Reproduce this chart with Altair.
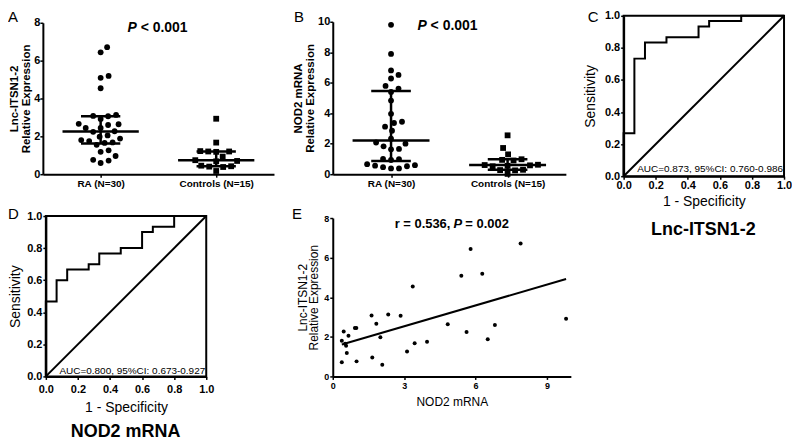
import altair as alt
import numpy as np
import pandas as pd

FONT = "Liberation Sans"

# ---------------- data ----------------
groups = ["RA (N=30)", "Controls (N=15)"]

# paired RA values (panel E: x = NOD2 mRNA, y = Lnc-ITSN1-2)
ra_nod2 = [0.38, 0.38, 0.46, 0.52, 0.56, 0.59, 0.66, 0.93, 0.99, 1.00,
           1.63, 1.66, 1.83, 2.00, 2.08, 2.33, 2.85, 3.12, 3.36, 3.44,
           3.96, 4.83, 5.40, 5.62, 5.79, 6.28, 6.51, 6.81, 7.89, 9.80]
ra_lnc = [0.72, 1.80, 2.27, 1.65, 1.55, 1.18, 2.05, 2.44, 2.44, 0.76,
          3.08, 0.96, 2.66, 1.98, 0.59, 3.13, 3.06, 1.26, 4.54, 1.68,
          1.75, 2.64, 5.09, 2.24, 6.44, 5.19, 1.88, 2.60, 6.71, 2.91]

ctrl_lnc = [0.17, 0.38, 0.40, 0.42, 0.45, 0.68, 0.70, 0.74,
            0.93, 1.18, 1.20, 1.20, 1.22, 1.67, 2.93]
ctrl_nod2 = [0.02, 0.25, 0.27, 0.29, 0.52, 0.55, 0.58, 0.60,
             0.62, 0.90, 0.94, 0.98, 1.30, 1.72, 2.55]

roc_c_fpr = [0, 0, 0.067, 0.067, 0.133, 0.133, 0.267, 0.267, 0.467, 0.467,
             0.533, 0.533, 0.733, 0.733, 1.0]
roc_c_tpr = [0, 0.267, 0.267, 0.733, 0.733, 0.833, 0.833, 0.867, 0.867, 0.933,
             0.933, 0.967, 0.967, 1.0, 1.0]
roc_d_fpr = [0, 0, 0.067, 0.067, 0.133, 0.133, 0.267, 0.267, 0.333, 0.333,
             0.467, 0.467, 0.6, 0.6, 0.667, 0.667, 0.8, 0.8, 1.0]
roc_d_tpr = [0, 0.467, 0.467, 0.6, 0.6, 0.667, 0.667, 0.7, 0.7, 0.767,
             0.767, 0.8, 0.8, 0.9, 0.9, 0.933, 0.933, 1.0, 1.0]
diag_line = [0.0, 1.0]
roc_ticks = [0.0, 0.2, 0.4, 0.6, 0.8, 1.0]

auc_c = "AUC=0.873, 95%CI: 0.760-0.986"
auc_d = "AUC=0.800, 95%CI: 0.673-0.927"
p_group = ["P", "< 0.001"]
p_corr = ["r = 0.536,", "P", "= 0.002"]
panel_letters = ["A", "B", "C", "D", "E"]
roc_titles = ["Lnc-ITSN1-2", "NOD2 mRNA"]

# ---------------- style constants ----------------
MED_HW = 0.33   # half width of the median bar (x units)
CAP_HW = 0.17   # half width of the quartile caps
TC = 20         # tick count large enough so explicit tick values are all kept
LET = dict(font=FONT, fontSize=15, align="left", baseline="top", color="black")


def swarm(vals, y_px, x_px, d=8.0):
    """Deterministic beeswarm offsets (Prism-like column scatter)."""
    vals = np.asarray(vals, float)
    order = np.argsort(vals, kind="stable")
    cands = [0.0] + [s * k * 0.5 for k in range(1, 80) for s in (1, -1)]
    placed = []
    off = np.zeros(len(vals))
    for i in order:
        y = vals[i] * y_px
        for c in cands:
            if all((c - px) ** 2 + (y - py) ** 2 >= d * d for px, py in placed):
                off[i] = c
                placed.append((c, y))
                break
    return off / x_px


def letter_layer(letter, x, y):
    return alt.Chart(pd.DataFrame({"t": [letter]})).mark_text(x=x, y=y, **LET).encode(text="t:N")


def dot_panel(ra, ctrl, y_max, y_top, x_px, width, height, ytitle, y_tpad,
              p_x, p_y, letter, lx, ly):
    y_px = (height - y_top) / y_max
    idx = [0] * len(ra) + [1] * len(ctrl)
    off = np.concatenate([swarm(ra, y_px, x_px), swarm(ctrl, y_px, x_px)])
    pts = pd.DataFrame({"grp": [groups[i] for i in idx],
                        "x": np.array(idx) + off,
                        "v": list(ra) + list(ctrl)})
    rows = []
    for i, v in enumerate([ra, ctrl]):
        q1, med, q3 = np.percentile(v, [25, 50, 75], method="weibull")
        rows.append({"idx": i, "q1": q1, "med": med, "q3": q3,
                     "m0": i - MED_HW, "m1": i + MED_HW,
                     "c0": i - CAP_HW, "c1": i + CAP_HW})
    summ = pd.DataFrame(rows)
    xs = alt.Scale(domain=[-0.5, 1.5], range=[0, 2 * x_px], nice=False, zero=False)
    ys = alt.Scale(domain=[0, y_max], range=[height, y_top], nice=False, zero=False)
    label_expr = f"datum.value < 0.5 ? '{groups[0]}' : '{groups[1]}'"
    xax = alt.Axis(values=[0, 1], tickCount=TC, labelExpr=label_expr, labelFontSize=10,
                   labelPadding=1, labelFlush=False, title=None)
    yax = alt.Axis(values=list(range(0, y_max + 1, 2)), tickCount=TC, format="d", title=ytitle,
                   titleFontSize=11.5, titleFontWeight="bold", titleLineHeight=12,
                   titlePadding=y_tpad, labelFontSize=11, labelPadding=0)
    points = alt.Chart(pts).mark_point(filled=True, opacity=1, color="black", size=34).encode(
        x=alt.X("x:Q", scale=xs, axis=xax),
        y=alt.Y("v:Q", scale=ys, axis=yax),
        shape=alt.Shape("grp:N", scale=alt.Scale(domain=groups, range=["circle", "square"]),
                        legend=None),
    )
    sb = alt.Chart(summ).mark_rule(color="black", strokeWidth=2.5)
    med = sb.encode(x="m0:Q", x2="m1:Q", y="med:Q")
    q1r = sb.encode(x="c0:Q", x2="c1:Q", y="q1:Q")
    q3r = sb.encode(x="c0:Q", x2="c1:Q", y="q3:Q")
    vert = sb.encode(x="idx:Q", y="q1:Q", y2="q3:Q")
    pdf = pd.DataFrame({"t": [p_group[0]], "x": [p_x], "y": [p_y]})
    rdf = pd.DataFrame({"t": [p_group[1]], "x": [p_x], "y": [p_y]})
    ptxt = alt.Chart(pdf).mark_text(font=FONT, fontSize=14, fontWeight="bold",
                                    fontStyle="italic", color="black").encode(
        x="x:Q", y="y:Q", text="t:N")
    rtxt = alt.Chart(rdf).mark_text(font=FONT, fontSize=14, fontWeight="bold",
                                    align="left", dx=8.5, color="black").encode(
        x="x:Q", y="y:Q", text="t:N")
    return alt.layer(points, med, q1r, q3r, vert, ptxt, rtxt,
                     letter_layer(letter, lx, ly)).properties(width=width, height=height)


def roc_panel(fpr, tpr, auc, auc_y, title, tx, ty, width, height, x_off, y_top,
              x_lpad, x_tpad, y_tpad, letter, lx, ly):
    roc = pd.DataFrame({"i": np.arange(len(fpr)), "fpr": fpr, "tpr": tpr})
    xs = alt.Scale(domain=[0, 1], range=[x_off, x_off + 161], nice=False, zero=False)
    ys = alt.Scale(domain=[0, 1], range=[height, y_top], nice=False, zero=False)
    xax = alt.Axis(values=roc_ticks, tickCount=TC, format=".1f", title="1 - Specificity",
                   titleFontSize=14, titleFontWeight="normal", titlePadding=x_tpad,
                   labelPadding=x_lpad, labelFlush=False, labelFontSize=11)
    yax_kw = dict(values=roc_ticks, tickCount=TC, format=".1f", title="Sensitivity",
                  titleFontSize=14, titleFontWeight="normal", titlePadding=y_tpad,
                  labelPadding=1, labelFontSize=11)
    if x_off:
        yax_kw["offset"] = -x_off
    frame = alt.Chart(pd.DataFrame({"a": [0.0], "b": [1.0]})).mark_rect(
        fillOpacity=0, stroke="black", strokeWidth=2).encode(
        x=alt.X("a:Q", scale=xs, axis=xax), x2="b:Q",
        y=alt.Y("a:Q", scale=ys, axis=alt.Axis(**yax_kw)), y2="b:Q")
    diag = alt.Chart(pd.DataFrame({"d": diag_line})).mark_line(
        color="black", strokeWidth=2).encode(x="d:Q", y="d:Q")
    line = alt.Chart(roc).mark_line(color="black", strokeWidth=2).encode(
        x="fpr:Q", y="tpr:Q", order="i:Q")
    atxt = alt.Chart(pd.DataFrame({"t": [auc], "x": [1.0], "y": [auc_y]})).mark_text(
        font=FONT, fontSize=10, align="right", dx=-1, color="black").encode(
        x="x:Q", y="y:Q", text="t:N")
    ttl = alt.Chart(pd.DataFrame({"t": [title]})).mark_text(
        x=tx, y=ty, font=FONT, fontSize=18, fontWeight="bold", color="black").encode(text="t:N")
    return alt.layer(frame, diag, line, atxt, ttl,
                     letter_layer(letter, lx, ly)).properties(width=width, height=height)


# ---------------- panels ----------------
A = dot_panel(ra_lnc, ctrl_lnc, 8, 7, 116, 238, 159, ["Lnc-ITSN1-2", "Relative Expression"], 2,
              0.273, 7.74, panel_letters[0], -35, -6)
B = dot_panel(ra_nod2, ctrl_nod2, 10, 6, 117, 239, 159, ["NOD2 mRNA", "Relative Expression"], 2,
              0.267, 9.74, panel_letters[1], -39, -6)
C = roc_panel(roc_c_fpr, roc_c_tpr, auc_c, 0.045, roc_titles[0], 80, 215,
              161, 161, 0, 0, 0, 4, 6.5, panel_letters[2], -36, -6)
D = roc_panel(roc_d_fpr, roc_d_tpr, auc_d, 0.035, roc_titles[1], 83, 218,
              165, 162, 3, 1, 4.5, 5.5, 4.5, panel_letters[3], -35, -8)

e_df = pd.DataFrame({"nod2": ra_nod2, "lnc": ra_lnc})
exs = alt.Scale(domain=[0, 10], range=[0, 239], nice=False, zero=False)
eys = alt.Scale(domain=[0, 8], range=[162, 3], nice=False, zero=False)
e_pts = alt.Chart(e_df).mark_circle(color="black", size=16, opacity=1).encode(
    x=alt.X("nod2:Q", scale=exs,
            axis=alt.Axis(values=[0, 3, 6, 9], tickCount=TC, format="d", title="NOD2 mRNA",
                          titleFontSize=12, titleFontWeight="normal", titlePadding=5.5,
                          labelPadding=2.5, labelFontSize=9, labelFlush=False)),
    y=alt.Y("lnc:Q", scale=eys,
            axis=alt.Axis(values=[0, 2, 4, 6, 8], tickCount=TC, format="d",
                          title=["Lnc-ITSN1-2", "Relative Expression"],
                          titleFontSize=12, titleFontWeight="normal", titleLineHeight=11,
                          titlePadding=3, labelPadding=1, labelFontSize=9)),
)
e_reg = alt.Chart(e_df).transform_regression("nod2", "lnc").mark_line(
    color="black", strokeWidth=2).encode(x="nod2:Q", y="lnc:Q")
e_t0 = alt.Chart(pd.DataFrame({"t": [p_corr[0]], "x": [5.255], "y": [7.7]})).mark_text(
    font=FONT, fontSize=13, fontWeight="bold", align="right", dx=-7.5, color="black").encode(
    x="x:Q", y="y:Q", text="t:N")
e_t1 = alt.Chart(pd.DataFrame({"t": [p_corr[1]], "x": [5.255], "y": [7.7]})).mark_text(
    font=FONT, fontSize=13, fontWeight="bold", fontStyle="italic", color="black").encode(
    x="x:Q", y="y:Q", text="t:N")
e_t2 = alt.Chart(pd.DataFrame({"t": [p_corr[2]], "x": [5.255], "y": [7.7]})).mark_text(
    font=FONT, fontSize=13, fontWeight="bold", align="left", dx=7.5, color="black").encode(
    x="x:Q", y="y:Q", text="t:N")
E = alt.layer(e_pts, e_reg, e_t0, e_t1, e_t2,
              letter_layer(panel_letters[4], -41, -8)).properties(width=239, height=162)

chart = alt.concat(
    A, B, C, D, E, columns=3, spacing={"row": 39, "column": 53},
    bounds="flush", align="each", background="white",
    padding={"left": 0, "top": 1, "right": 0, "bottom": 0},
).configure_view(stroke=None).configure_axis(
    labelFont=FONT, titleFont=FONT, labelColor="black", titleColor="black",
    domainColor="black", tickColor="black", domainWidth=2, tickWidth=1.5, tickSize=3,
    labelFontWeight="bold", grid=False, labelOverlap=False,
)

chart.save("out.html", embed_options={"renderer": "svg", "actions": False})
